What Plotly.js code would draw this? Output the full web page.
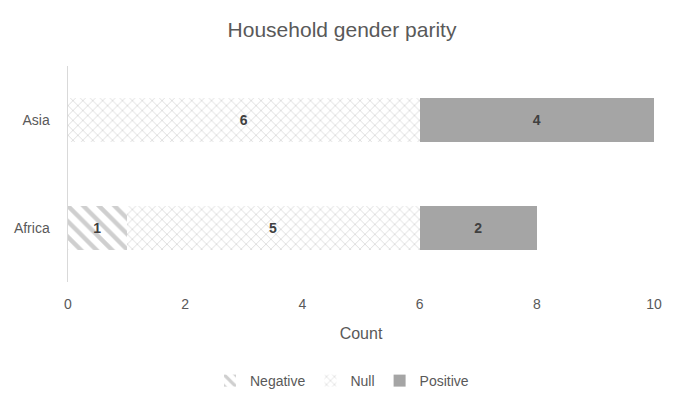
<!DOCTYPE html>
<html><head><meta charset="utf-8">
<script src="https://cdn.plot.ly/plotly-3.0.1.min.js"></script>
<style>html,body{margin:0;padding:0;background:#fff}#chart{width:684px;height:410px}</style>
</head><body><div id="chart"></div>
<script>
const categories = ["Africa", "Asia"];
const negative = [1, 0];
const nullVals = [5, 6];
const positive = [2, 4];
const seriesNames = ["Negative", "Null", "Positive"];
const xTicks = [0, 2, 4, 6, 8, 10];

const FONT = "Liberation Sans, Arial, sans-serif";
const txt = v => v.map(x => x ? String(x) : "");
const common = {type: "bar", orientation: "h", y: categories, textposition: "inside", insidetextanchor: "middle",
  textfont: {family: FONT, size: 14, color: "#404040", weight: "bold"}, hoverinfo: "x+name", cliponaxis: false};

const traces = [
  Object.assign({}, common, {name: seriesNames[0], x: negative, text: txt(negative),
    marker: {color: "#ffffff", line: {width: 0}, pattern: {shape: "\\", fgcolor: "#a0a0a0", bgcolor: "#ffffff", size: 11, solidity: 0.4, fillmode: "overlay"}}}),
  Object.assign({}, common, {name: seriesNames[1], x: nullVals, text: txt(nullVals),
    marker: {color: "#ffffff", line: {width: 0}, pattern: {shape: "x", fgcolor: "#a8a8a8", bgcolor: "#ffffff", size: 7, solidity: 0.2, fillmode: "overlay"}}}),
  Object.assign({}, common, {name: seriesNames[2], x: positive, text: txt(positive),
    marker: {color: "#a5a5a5", line: {width: 0}}})
];

const layout = {
  width: 684, height: 410,
  margin: {l: 68, r: 30, t: 66, b: 128},
  paper_bgcolor: "#ffffff", plot_bgcolor: "#ffffff",
  barmode: "stack", bargap: 0.59,
  font: {family: FONT, color: "#595959", size: 14},
  title: {text: "Household gender parity", x: 0.5, xanchor: "center", y: 0.927, yanchor: "middle",
    font: {family: FONT, size: 21, color: "#595959"}},
  xaxis: {range: [0, 10], tickvals: xTicks, showgrid: false, zeroline: false, showline: false, automargin: false,
    ticks: "", ticklabelstandoff: 12, tickfont: {size: 14, color: "#595959"},
    title: {text: "Count", font: {size: 16, color: "#595959"}, standoff: 16}},
  yaxis: {range: [-0.5, 1.5], showgrid: false, zeroline: false, showline: true, linecolor: "#d9d9d9", linewidth: 1.5,
    ticks: "", ticklabelstandoff: 14, tickfont: {size: 14, color: "#595959"}, automargin: false},
  legend: {orientation: "h", x: 0.5, xref: "container", xanchor: "center", y: 0.0707, yref: "container", yanchor: "middle",
    font: {size: 14, color: "#595959"}, traceorder: "normal", itemwidth: 30, tracegroupgap: 0},
  showlegend: true
};

Plotly.newPlot("chart", traces, layout, {displayModeBar: false, staticPlot: true});
</script>
</body></html>
